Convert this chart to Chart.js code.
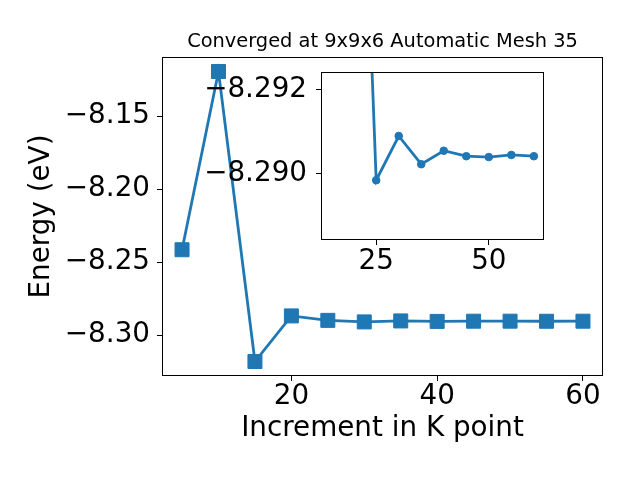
<!DOCTYPE html>
<html>
<head>
<meta charset="utf-8">
<script src="https://cdn.jsdelivr.net/npm/chart.js@4.4.1/dist/chart.umd.min.js"></script>
<style>
  body { margin: 0; background: #fff; }
  #wrap { position: relative; width: 640px; height: 480px; }
  #wrap canvas { position: absolute; left: 0; top: 0; }
</style>
</head>
<body>
<div id="wrap">
  <canvas id="mainChart" width="640" height="480"></canvas>
  <canvas id="insetChart" width="640" height="480"></canvas>
</div>
<script>
// k-point convergence data
const kPoints = [5, 10, 15, 20, 25, 30, 35, 40, 45, 50, 55, 60];
const energies = [-8.2415, -8.1195, -8.318, -8.2868, -8.28985, -8.2909,
  -8.29023, -8.29055, -8.29042, -8.2904, -8.29045, -8.29042];
const xTicks = [20, 40, 60];
const yTicks = [-8.30, -8.25, -8.20, -8.15];

// zoomed inset
const insetK = [15, 25, 30, 35, 40, 45, 50, 55, 60];
const insetEnergies = [-8.318, -8.28985, -8.2909, -8.29023, -8.29055,
  -8.29042, -8.2904, -8.29045, -8.29042];
const insetXTicks = [25, 50];
const insetYTicks = [-8.292, -8.290];
const insetYRange = [-8.29242, -8.28843];

const titleText = 'Converged at 9x9x6 Automatic Mesh 35';
const blue = '#1f77b4';
const FONT = "'DejaVu Sans'";

Chart.defaults.color = '#000';
Chart.defaults.font.family = FONT;

// matplotlib-like 5% margins
function padded(values) {
  const lo = Math.min(...values), hi = Math.max(...values);
  const m = (hi - lo) * 0.05;
  return [lo - m, hi + m];
}
const minus = s => s.replace('-', '\u2212');

// box around the axes (all four spines)
const frame = {
  id: 'frame',
  afterDatasetsDraw(chart) {
    const { ctx, chartArea: a } = chart;
    ctx.save();
    ctx.strokeStyle = '#000';
    ctx.lineWidth = 1;
    ctx.strokeRect(Math.round(a.left) + 0.5, Math.round(a.top) + 0.5,
      Math.round(a.right - a.left) - 1, Math.round(a.bottom - a.top) - 1);
    ctx.restore();
  }
};

// title centred over the axes, not the canvas
const axesTitle = {
  id: 'axesTitle',
  afterDraw(chart) {
    const { ctx, chartArea: a } = chart;
    ctx.save();
    ctx.font = `19.4px ${FONT}`;
    ctx.fillStyle = '#000';
    ctx.textAlign = 'center';
    ctx.textBaseline = 'middle';
    ctx.fillText(titleText, (a.left + a.right) / 2, 42.3);
    ctx.restore();
  }
};

const whiteBg = {
  id: 'whiteBg',
  beforeDraw(chart) {
    const { ctx, chartArea: a } = chart;
    ctx.save();
    ctx.fillStyle = '#fff';
    ctx.fillRect(a.left, a.top, a.right - a.left, a.bottom - a.top);
    ctx.restore();
  }
};

const tickGrid = { drawOnChartArea: false, drawTicks: true, tickLength: 5, color: '#000', lineWidth: 1 };
const tickFont = { size: 27.8, lineHeight: 1 };

const [xMin, xMax] = padded(kPoints);
const [yMin, yMax] = padded(energies);

new Chart(document.getElementById('mainChart'), {
  type: 'line',
  data: {
    datasets: [{
      data: kPoints.map((k, i) => ({ x: k, y: energies[i] })),
      borderColor: blue,
      backgroundColor: blue,
      borderWidth: 2.8,
      pointStyle: 'rect',
      pointRadius: 9.9,
      pointBorderWidth: 1,
      pointBorderColor: blue,
      tension: 0
    }]
  },
  options: {
    responsive: false,
    animation: false,
    events: [],
    layout: { padding: { left: 21, right: 37, top: 57, bottom: 31 } },
    plugins: { legend: { display: false }, tooltip: { enabled: false } },
    scales: {
      x: {
        type: 'linear', min: xMin, max: xMax,
        grid: tickGrid, border: { display: false },
        afterBuildTicks: s => { s.ticks = xTicks.map(v => ({ value: v })); },
        afterFit: s => { s.height = 73; },
        ticks: { font: tickFont, padding: 2, maxRotation: 0, callback: v => String(v) },
        title: { display: true, text: 'Increment in K point', font: { size: 27.8, lineHeight: 1.2 }, padding: { top: 4, bottom: 4 } }
      },
      y: {
        type: 'linear', min: yMin, max: yMax,
        grid: tickGrid, border: { display: false },
        afterBuildTicks: s => { s.ticks = yTicks.map(v => ({ value: v })); },
        afterFit: s => { s.width = 141; },
        ticks: { font: tickFont, padding: 7, callback: v => minus(v.toFixed(2)) },
        title: { display: true, text: 'Energy (eV)', font: { size: 27.8, lineHeight: 1.2 }, padding: { top: 4, bottom: 4 } }
      }
    }
  },
  plugins: [frame, axesTitle]
});

const [ixMin, ixMax] = padded(insetK);

new Chart(document.getElementById('insetChart'), {
  type: 'line',
  data: {
    datasets: [{
      data: insetK.map((k, i) => ({ x: k, y: insetEnergies[i] })),
      borderColor: blue,
      backgroundColor: blue,
      borderWidth: 2.8,
      pointStyle: 'circle',
      pointRadius: 3.8,
      pointBorderWidth: 1,
      pointBorderColor: blue,
      tension: 0,
      clip: 0
    }]
  },
  options: {
    responsive: false,
    animation: false,
    events: [],
    layout: { padding: { left: 151, right: 96, top: 72, bottom: 200 } },
    plugins: { legend: { display: false }, tooltip: { enabled: false } },
    scales: {
      x: {
        type: 'linear', min: ixMin, max: ixMax,
        grid: tickGrid, border: { display: false },
        afterBuildTicks: s => { s.ticks = insetXTicks.map(v => ({ value: v })); },
        afterFit: s => { s.height = 40; },
        ticks: { font: tickFont, padding: 3, maxRotation: 0, callback: v => String(v) }
      },
      y: {
        type: 'linear', min: insetYRange[0], max: insetYRange[1], reverse: true,
        grid: tickGrid, border: { display: false },
        afterBuildTicks: s => { s.ticks = insetYTicks.map(v => ({ value: v })); },
        afterFit: s => { s.width = 170; },
        ticks: { font: tickFont, padding: 9, callback: v => minus(v.toFixed(3)) }
      }
    }
  },
  plugins: [whiteBg, frame]
});
</script>
</body>
</html>
